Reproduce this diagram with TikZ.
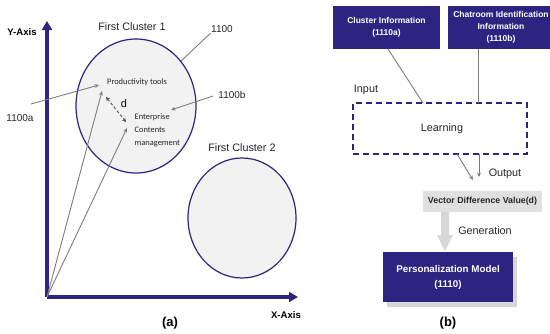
\documentclass[tikz,border=0pt]{standalone}
\usepackage{fontspec}
\setmainfont{Liberation Sans}
\newfontfamily\calfont{Carlito}
\usetikzlibrary{arrows.meta,shapes.geometric}
\definecolor{navy}{RGB}{44,36,128}
\definecolor{cfill}{RGB}{242,242,242}
\definecolor{lead}{RGB}{125,125,125}
\definecolor{vbox}{RGB}{224,224,224}
\definecolor{shad}{RGB}{215,215,215}
\begin{document}
\begin{tikzpicture}[x=1pt,y=-1pt,
  lbl/.style={font=\fontsize{10.8}{13}\selectfont, inner sep=0.5pt, text=black!85},
  num/.style={font=\fontsize{10}{12}\selectfont, inner sep=0.5pt, text=black!85},
  axlbl/.style={font=\bfseries\fontsize{9.6}{11}\selectfont, inner sep=0.5pt},
  captxt/.style={font=\bfseries\fontsize{13}{15}\selectfont, inner sep=0.5pt},
  inner/.style={font=\calfont\fontsize{8.4}{13}\selectfont, inner sep=0.5pt, align=left, text=black!85},
  cluster/.style={ellipse, draw=navy, fill=cfill, line width=1.2pt, inner sep=0},
  axis/.style={draw=navy, line width=3.2pt, -{Triangle[length=9pt,width=10pt]}},
  leader/.style={draw=lead, line width=0.9pt, -{Stealth[length=4.5pt,width=4pt]}},
  plain/.style={draw=lead, line width=0.9pt},
  navybox/.style={fill=navy, text=white, font=\bfseries\fontsize{8.5}{12}\selectfont, align=center, inner sep=0},
]
\useasboundingbox (0,0) rectangle (550,333);
% ---------- (a) ----------
\node[cluster, minimum width=120pt, minimum height=134pt] (c1) at (136,106) {};
\node[cluster, minimum width=108pt, minimum height=120pt] (c2) at (242,218) {};
\coordinate (O) at (47,297);
\coordinate (Ytop) at (47,21);
\coordinate (Xend) at (298,297);
\draw[axis] (O) -- (Ytop);
\draw[axis] (O) -- (Xend);
\node[axlbl] (ylab) at (22,32) {Y-Axis};
\node[axlbl] (xlab) at (286,315) {X-Axis};
\node[captxt] (capa) at (170,323) {(a)};
\node[lbl] (fc1) at (132,27) {First Cluster 1};
\node[lbl] (fc2) at (242,148) {First Cluster 2};
\node[num] (n1100) at (222,29) {1100};
\node[num] (n1100a) at (20,118) {1100a};
\node[num] (n1100b) at (232,95) {1100b};
\node[inner] (prod) at (137,82) {Productivity tools};
\node[inner, anchor=north west] (ent) at (134,113) {Enterprise\\Contents\\management};
\node[font=\fontsize{11}{13}\selectfont, inner sep=0.5pt] (dlab) at (124,104) {d};
\coordinate (p1) at (102,91);
\coordinate (p2) at (127,128);
\coordinate (dA) at (106,97);
\coordinate (dB) at (126,122);
\coordinate (a1) at (31,104);
\coordinate (a1e) at (99,85);
\coordinate (b1) at (213,96);
\coordinate (b1e) at (171,110);
\draw[plain] (c1.45) -- (n1100.south west);
\draw[leader] (a1) -- (a1e);
\draw[leader] (b1) -- (b1e);
\draw[leader] (O) -- (p1);
\draw[leader] (O) -- (p2);
\draw[draw=black!70, line width=0.8pt, densely dashed, {Stealth[length=4pt,width=4pt]}-{Stealth[length=4pt,width=4pt]}] (dA) -- (dB);
% ---------- (b) ----------
\node[navybox, minimum width=107pt, minimum height=43pt] (ci) at (386.5,27.5) {Cluster Information\\(1110a)};
\node[navybox, minimum width=106pt, minimum height=43pt] (ch) at (501,27.5) {Chatroom Identification\\Information\\(1110b)};
\node[draw=navy, dash pattern=on 6pt off 4pt, line width=1.5pt, minimum width=174pt, minimum height=51pt, inner sep=0] (learn) at (440,128.5) {};
\node[lbl] (learntxt) at (442,129) {Learning};
\node[lbl] (input) at (366,90) {Input};
\node[lbl] (output) at (505,174) {Output};
\node[lbl] (gen) at (485,231) {Generation};
\node[fill=vbox, minimum width=119pt, minimum height=21pt, inner sep=0, font=\bfseries\fontsize{8.8}{11}\selectfont, text=black!85] (vd) at (482.5,201.5) {Vector Difference Value(d)};
\fill[shad] (387,257) rectangle (517,307);
\node[navybox, font=\bfseries\fontsize{9.8}{15}\selectfont, minimum width=130pt, minimum height=50pt] (pm) at (448,277) {Personalization Model\\(1110)};
\node[captxt] (capb) at (448,323) {(b)};
\coordinate (ciS) at (388,49);
\coordinate (lnA) at (423,103);
\coordinate (chS) at (478,49);
\coordinate (lnB) at (478,103);
\coordinate (lo1) at (457,154);
\coordinate (lo1e) at (473,180);
\coordinate (lo2) at (479,154);
\coordinate (lo2e) at (479,177);
\draw[plain] (ciS) -- (lnA);
\draw[plain] (chS) -- (lnB);
\draw[leader] (lo1) -- (lo1e);
\draw[leader] (lo2) -- (lo2e);
% big arrow
\fill[shad] (441,212) -- (449,212) -- (449,235) -- (453,235) -- (445,251) -- (437,235) -- (441,235) -- cycle;
\end{tikzpicture}
\end{document}
